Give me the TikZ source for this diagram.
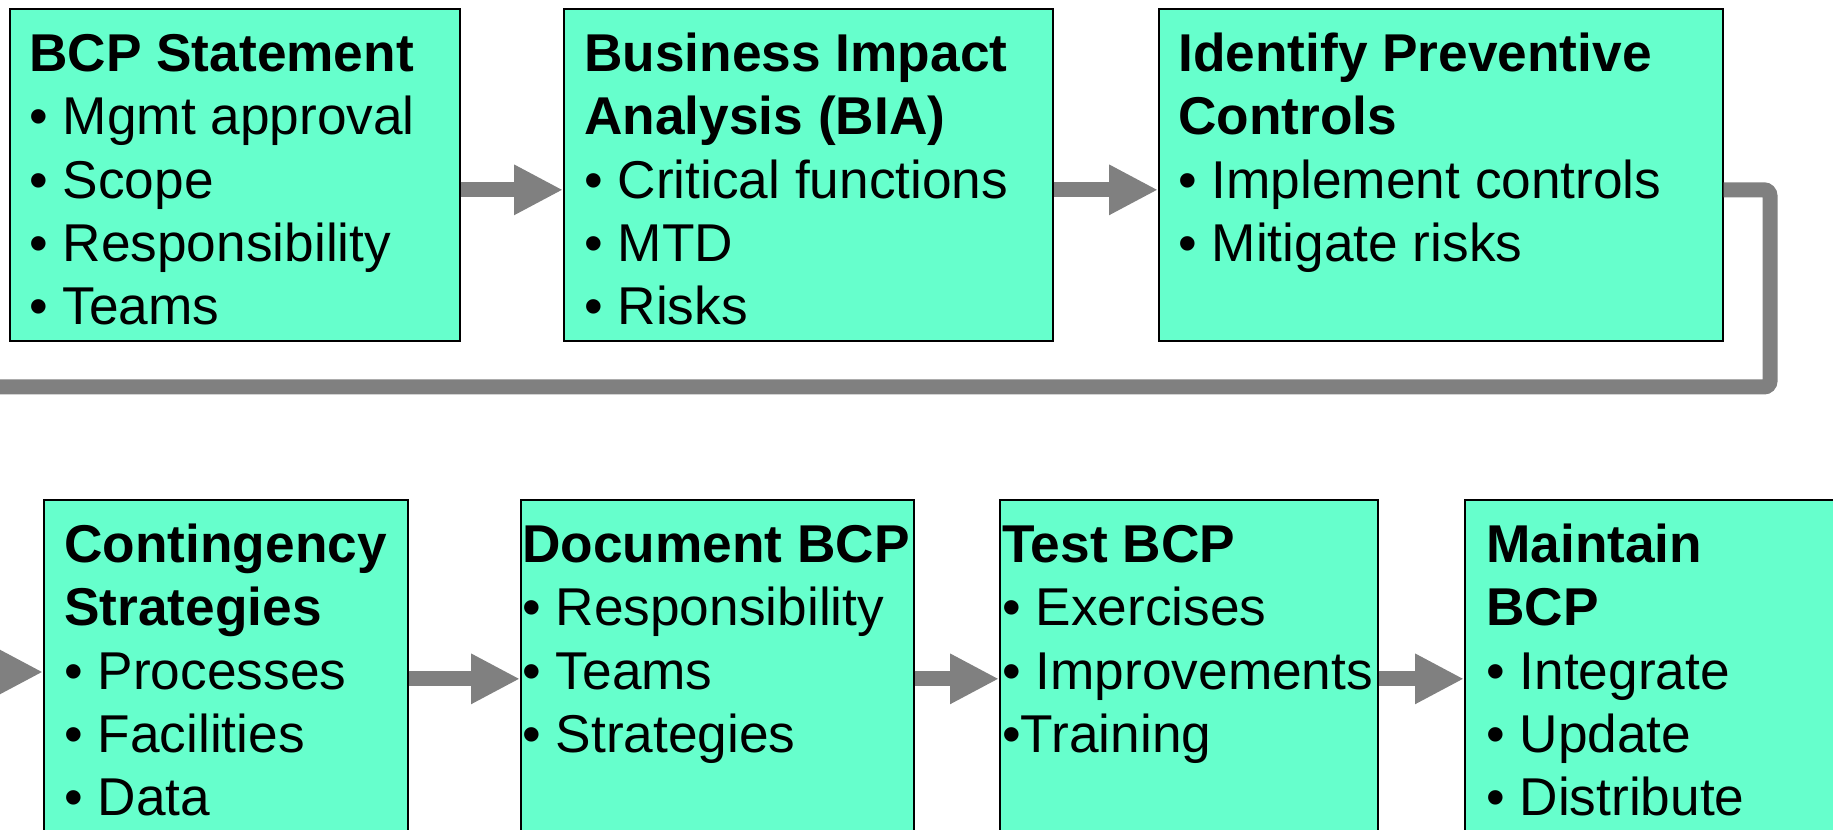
\documentclass[tikz,border=0pt]{standalone}
\usepackage{fontspec}
\setmainfont{Liberation Sans}
\usetikzlibrary{arrows.meta,positioning}
\definecolor{boxgreen}{HTML}{66FFCC}
\definecolor{flowgray}{HTML}{808080}
\tikzstyle{stepbox} = [draw=black, line width=1pt, fill=boxgreen, anchor=north west, inner sep=0pt, minimum height=6.64cm]
\tikzstyle{steptext} = [anchor=north west, align=left, inner sep=0pt, font=\fontsize{30.3}{36}\selectfont]
\tikzstyle{flow} = [draw=flowgray, line width=0.3cm, -{Triangle[length=0.98cm, width=0.94cm]}]
\newcommand{\hd}[1]{\strut\textbf{#1}}
\newcommand{\itm}[1]{\strut• #1}

\begin{document}
\begin{tikzpicture}[x=0.02cm, y=-0.02cm]
    \useasboundingbox (0,0) rectangle (1833,830);
    \clip (0,0) rectangle (1833,830);

    \node[stepbox, minimum width=9cm] (bcp) at (9,8) {};
    \node[stepbox, minimum width=9.78cm] (bia) at (563,8) {};
    \node[stepbox, minimum width=11.28cm] (ipc) at (1158,8) {};
    \node[stepbox, minimum width=7.28cm] (cs) at (43,499) {};
    \node[stepbox, minimum width=7.86cm] (doc) at (520,499) {};
    \node[stepbox, minimum width=7.56cm] (test) at (999,499) {};
    \node[stepbox, minimum width=8cm] (maint) at (1464,499) {};

    \node[steptext] (bcptext) at ([xshift=0.4cm, yshift=-0.38cm]bcp.north west)
        {\hd{BCP Statement}\\ \itm{Mgmt approval}\\ \itm{Scope}\\ \itm{Responsibility}\\ \itm{Teams}};
    \node[steptext] (biatext) at ([xshift=0.42cm, yshift=-0.38cm]bia.north west)
        {\hd{Business Impact}\\ \hd{Analysis (BIA)}\\ \itm{Critical functions}\\ \itm{MTD}\\ \itm{Risks}};
    \node[steptext] (ipctext) at ([xshift=0.4cm, yshift=-0.38cm]ipc.north west)
        {\hd{Identify Preventive}\\ \hd{Controls}\\ \itm{Implement controls}\\ \itm{Mitigate risks}};
    \node[steptext] (cstext) at ([xshift=0.42cm, yshift=-0.38cm]cs.north west)
        {\hd{Contingency}\\ \hd{Strategies}\\ \itm{Processes}\\ \itm{Facilities}\\ \itm{Data}};
    \node[steptext] (doctext) at ([xshift=0.04cm, yshift=-0.38cm]doc.north west)
        {\hd{Document BCP}\\ \itm{Responsibility}\\ \itm{Teams}\\ \itm{Strategies}};
    \node[steptext] (testtext) at ([xshift=0.06cm, yshift=-0.38cm]test.north west)
        {\hd{Test BCP}\\ \itm{Exercises}\\ \itm{Improvements}\\ \strut•Training};
    \node[steptext] (mainttext) at ([xshift=0.44cm, yshift=-0.38cm]maint.north west)
        {\hd{Maintain}\\ \hd{BCP}\\ \itm{Integrate}\\ \itm{Update}\\ \itm{Distribute}};

    \draw[flow] ([yshift=-0.3cm]bcp.east) -- ([yshift=-0.3cm]bia.west);
    \draw[flow] ([yshift=-0.3cm]bia.east) -- ([yshift=-0.3cm]ipc.west);
    \draw[flow, rounded corners=0.12cm] ([yshift=-0.3cm]ipc.east) -| (1770,387) -| (-30,672) -- (cs.west |- 0,672);
    \draw[flow] ([yshift=-0.26cm]cs.east) -- ([yshift=-0.26cm]doc.west);
    \draw[flow] ([yshift=-0.26cm]doc.east) -- ([yshift=-0.26cm]test.west);
    \draw[flow] ([yshift=-0.26cm]test.east) -- ([yshift=-0.26cm]maint.west);
\end{tikzpicture}
\end{document}
